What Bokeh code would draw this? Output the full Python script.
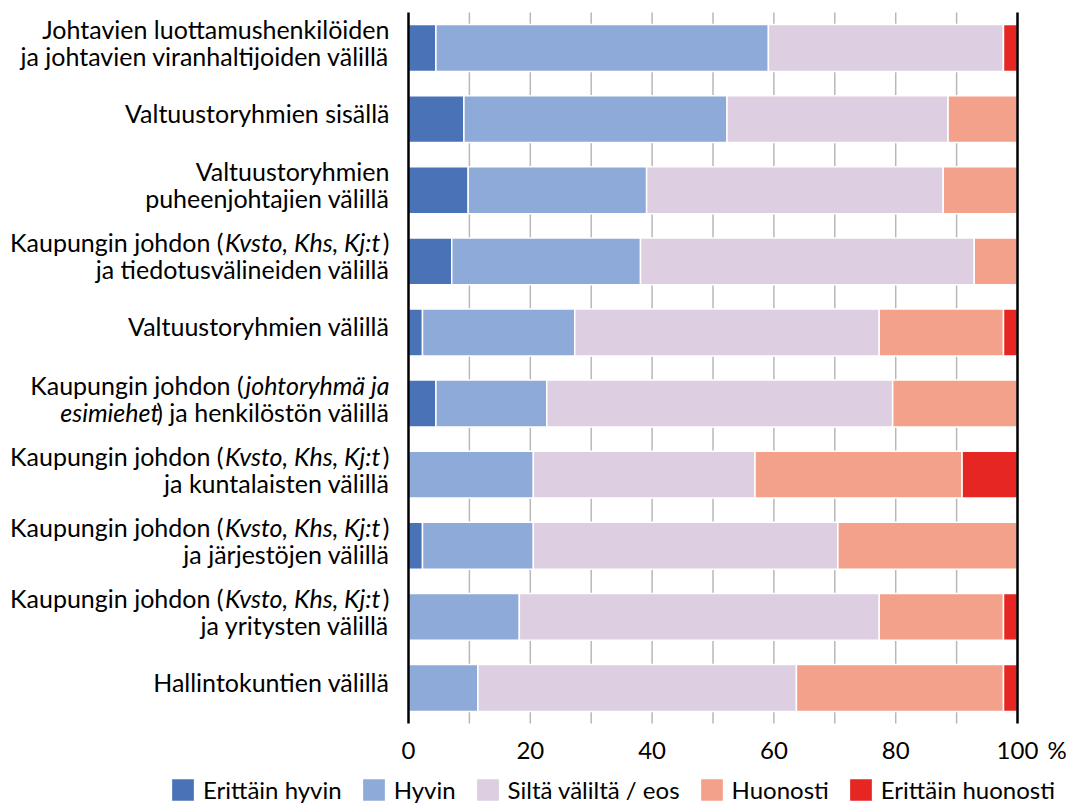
from bokeh.plotting import figure
from bokeh.models import (ColumnDataSource, Range1d, FixedTicker, LabelSet,
                          Legend, LegendItem)
from bokeh.core.properties import value, field
from bokeh.embed import file_html
from bokeh.resources import INLINE

# ---------------- data ----------------
categories = [
    "Johtavien luottamushenkilöiden ja johtavien viranhaltijoiden välillä",
    "Valtuustoryhmien sisällä",
    "Valtuustoryhmien puheenjohtajien välillä",
    "Kaupungin johdon (Kvsto, Khs, Kj:t) ja tiedotusvälineiden välillä",
    "Valtuustoryhmien välillä",
    "Kaupungin johdon (johtoryhmä ja esimiehet) ja henkilöstön välillä",
    "Kaupungin johdon (Kvsto, Khs, Kj:t) ja kuntalaisten välillä",
    "Kaupungin johdon (Kvsto, Khs, Kj:t) ja järjestöjen välillä",
    "Kaupungin johdon (Kvsto, Khs, Kj:t) ja yritysten välillä",
    "Hallintokuntien välillä",
]
# category labels as displayed (lines; *...* = italic)
label_lines = [
    ["Johtavien luottamushenkilöiden", "ja johtavien viranhaltijoiden välillä"],
    ["Valtuustoryhmien sisällä"],
    ["Valtuustoryhmien", "puheenjohtajien välillä"],
    ["Kaupungin johdon (*Kvsto, Khs, Kj:t*)", "ja tiedotusvälineiden välillä"],
    ["Valtuustoryhmien välillä"],
    ["Kaupungin johdon (*johtoryhmä ja*", "*esimiehet*) ja henkilöstön välillä"],
    ["Kaupungin johdon (*Kvsto, Khs, Kj:t*)", "ja kuntalaisten välillä"],
    ["Kaupungin johdon (*Kvsto, Khs, Kj:t*)", "ja järjestöjen välillä"],
    ["Kaupungin johdon (*Kvsto, Khs, Kj:t*)", "ja yritysten välillä"],
    ["Hallintokuntien välillä"],
]
series = ["Erittäin hyvin", "Hyvin", "Siltä väliltä / eos", "Huonosti", "Erittäin huonosti"]
erittain_hyvin    = [4.5, 9.1, 9.8, 7.1, 2.3, 4.5, 0.0, 2.3, 0.0, 0.0]
hyvin             = [54.6, 43.2, 29.3, 31.0, 25.0, 18.2, 20.5, 18.2, 18.2, 11.4]
silta_valilta     = [38.6, 36.3, 48.7, 54.8, 50.0, 56.8, 36.4, 50.0, 59.1, 52.3]
huonosti          = [0.0, 11.4, 12.2, 7.1, 20.4, 20.5, 34.0, 29.5, 20.4, 34.0]
erittain_huonosti = [2.3, 0.0, 0.0, 0.0, 2.3, 0.0, 9.1, 0.0, 2.3, 2.3]
x_ticks = [0, 20, 40, 60, 80, 100]
grid_ticks = [10, 20, 30, 40, 50, 60, 70, 80, 90]
edge_lines = [0, 100]
unit_label = "%"

# ---------------- style / layout ----------------
colors = ["#4a72b7", "#8eaad9", "#ddcee1", "#f4a18b", "#e52622"]
FONT = "Lato"
LABEL_SIZE = 25
N = len(categories)
W_FIG, H_FIG = 1068, 805
X0_PX, PLOT_W = 408, 609          # pixel position of 0 % and width of 0..100 %
Y_TOP_PX, Y_BOT_PX = 12, 723      # pixel rows of the top and bottom of the bar area
ppu = PLOT_W / 100.0
ppy = (Y_BOT_PX - Y_TOP_PX) / N
UNIT_POS = 106.5                  # where the "%" sits on the value scale

keys = ["eh", "h", "s", "hu", "ehu"]
src = ColumnDataSource(dict(
    y=[N - i - 0.5 for i in range(N)],
    cat=categories,
    eh=erittain_hyvin, h=hyvin, s=silta_valilta, hu=huonosti, ehu=erittain_huonosti,
))

p = figure(width=W_FIG, height=H_FIG,
           x_range=Range1d(-X0_PX / ppu, (W_FIG - X0_PX) / ppu),
           y_range=Range1d(-(H_FIG - Y_BOT_PX) / ppy, N + Y_TOP_PX / ppy),
           output_backend="svg", toolbar_location=None,
           min_border_left=0, min_border_right=0, min_border_top=0, min_border_bottom=0)
p.outline_line_color = None
p.background_fill_color = "white"
p.yaxis.visible = False
p.grid.visible = False

ax = p.xaxis[0]
ax.fixed_location = 0
ax.ticker = FixedTicker(ticks=x_ticks + [UNIT_POS])
ax.major_label_overrides = {UNIT_POS: unit_label}
ax.axis_line_color = None
ax.major_tick_line_color = None
ax.minor_tick_line_color = None
ax.major_label_text_font = FONT
ax.major_label_text_font_size = "24px"
ax.major_label_text_color = "black"
ax.major_label_standoff = 5

# vertical gridlines (beneath the bars), limited to the bar area
p.segment(x0=grid_ticks, x1=grid_ticks, y0=[0] * len(grid_ticks), y1=[N] * len(grid_ticks),
          line_color="#b8b8b8", line_width=1.5)

renderers = p.hbar_stack(keys, y="y", height=0.66, color=colors, source=src,
                         line_color="white", line_width=1.5)

# black lines at 0 % and 100 %
p.segment(x0=edge_lines, x1=edge_lines, y0=[0] * 2, y1=[N] * 2,
          line_color="black", line_width=2.5)

# ---------------- category labels (mixed italic) ----------------
W = {' ': 0.193, '(': 0.30, ')': 0.30, ',': 0.21, ':': 0.23, 'K': 0.66, 'J': 0.37,
     'V': 0.66, 'H': 0.72, 'a': 0.50, 'ä': 0.50, 'd': 0.55, 'e': 0.52, 'h': 0.55,
     'i': 0.23, 'j': 0.23, 'k': 0.49, 'l': 0.23, 'm': 0.83, 'n': 0.55, 'o': 0.55,
     'ö': 0.55, 'p': 0.55, 'r': 0.36, 's': 0.40, 't': 0.34, 'u': 0.55, 'v': 0.48,
     'y': 0.48, 'g': 0.50}
W_SCALE = {"normal": 1.02, "italic": 0.995}
ITALIC_GAP = 1.5


def text_w(s, style):
    return sum(W.get(c, 0.5) for c in s) * LABEL_SIZE * W_SCALE[style]


RIGHT_GAP = 19
line_dy = {1: [-4], 2: [9, -18]}
lx, ly, lxo, lyo, ltxt, lsty = [], [], [], [], [], []
for i, lines in enumerate(label_lines):
    yc = N - i - 0.5
    for dy, line in zip(line_dy[len(lines)], lines):
        parts = line.split("*")
        segs = [(t, "italic" if k % 2 else "normal") for k, t in enumerate(parts) if t]
        off = -RIGHT_GAP
        prev_style = None
        for t, st in reversed(segs):
            if prev_style == "normal" and st == "italic":
                off -= ITALIC_GAP
            lx.append(0); ly.append(yc); lxo.append(off); lyo.append(dy)
            ltxt.append(t); lsty.append(st)
            off -= text_w(t, st)
            prev_style = st

lab_src = ColumnDataSource(dict(x=lx, y=ly, xo=lxo, yo=lyo, text=ltxt, style=lsty))
p.add_layout(LabelSet(x="x", y="y", text="text", source=lab_src,
                      x_offset=field("xo"), y_offset=field("yo"),
                      text_align="right", text_baseline="alphabetic",
                      text_font=value(FONT), text_font_size=value(f"{LABEL_SIZE}px"),
                      text_font_style=field("style"), text_color="black"))

# ---------------- legend ----------------
leg = Legend(items=[LegendItem(label=name, renderers=[r]) for name, r in zip(series, renderers)],
             location=(168, 1), orientation="horizontal", glyph_width=29, glyph_height=29,
             label_standoff=6, padding=0, margin=0, spacing=17,
             border_line_color=None, background_fill_alpha=0,
             label_text_font=FONT, label_text_font_size="24px",
             label_text_color="black", label_height=29)
p.add_layout(leg)

open("out.html", "w").write(file_html(p, INLINE))
